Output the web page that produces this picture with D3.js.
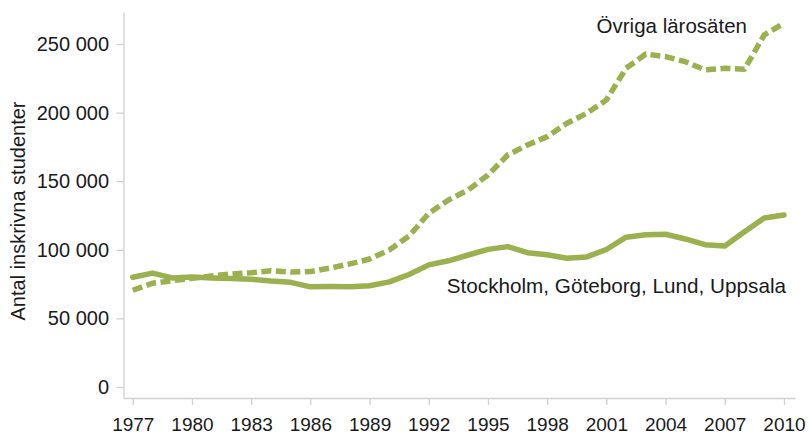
<!DOCTYPE html>
<html>
<head>
<meta charset="utf-8">
<script src="https://cdn.jsdelivr.net/npm/d3@7"></script>
<style>
  body { margin: 0; background: #fff; }
  svg { display: block; font-family: "Liberation Sans", Arial, sans-serif; }
  .axis path, .axis line { stroke: #d0d0d0; stroke-width: 1.3; }
  .axis text { fill: #1a1a1a; font-size: 20px; }
  .xaxis text { font-size: 19px; }
</style>
</head>
<body>
<div id="chart"></div>
<script>
// data
var years = d3.range(1977, 2011);
var storaUni = [80000, 83000, 79500, 80200, 79500, 79000, 78600, 77200, 76300, 73000,
                73200, 73100, 73800, 76600, 82000, 89000, 92000, 96200, 100300, 102300,
                97900, 96400, 93800, 94800, 100200, 109200, 111000, 111300, 107900, 103700,
                102800, 113200, 123200, 125400];
var ovriga = [70500, 75600, 77500, 79200, 81000, 82400, 83300, 84800, 83800, 84100,
              86700, 89700, 93300, 99900, 110000, 126600, 136300, 143600, 154500, 169100,
              176400, 182500, 192200, 199500, 209200, 232300, 242700, 240800, 237100, 231100,
              232300, 231600, 256600, 265100];
var yTicks = [0, 50000, 100000, 150000, 200000, 250000];
var xTicks = d3.range(1977, 2011, 3);

var width = 809, height = 436;
var green = "#9bb04e";

var svg = d3.select("#chart")
  .append("svg")
    .attr("width", width)
    .attr("height", height);

var x = d3.scaleLinear()
  .domain([1976.53, 2010.56])
  .range([123.5, 795]);

var y = d3.scaleLinear()
  .domain([-8017, 273324])
  .range([398, 12]);

var sv = d3.formatLocale({decimal: ",", thousands: " ", grouping: [3], currency: ["", ""]});

// X axis
svg.append("g")
  .attr("class", "axis xaxis")
  .attr("transform", "translate(0,398)")
  .call(d3.axisBottom(x).tickValues(xTicks).tickFormat(d3.format("d"))
        .tickSize(7).tickSizeOuter(0).tickPadding(13));

// Y axis
svg.append("g")
  .attr("class", "axis")
  .attr("transform", "translate(123.5,0)")
  .call(d3.axisLeft(y).tickValues(yTicks).tickFormat(sv.format(","))
        .tickSize(7).tickSizeOuter(0).tickPadding(7.5));

// Y axis label
svg.append("text")
  .attr("transform", "translate(25,211) rotate(-90)")
  .attr("text-anchor", "middle")
  .style("font-size", "20px")
  .style("fill", "#1a1a1a")
  .text("Antal inskrivna studenter");

var line = d3.line()
  .x(function(d, i) { return x(years[i]); })
  .y(function(d) { return y(d); });

// Stockholm, Göteborg, Lund, Uppsala
svg.append("path")
  .datum(storaUni)
  .attr("d", line)
  .attr("fill", "none")
  .attr("stroke", green)
  .attr("stroke-width", 5.5)
  .attr("stroke-linejoin", "round")
  .attr("stroke-linecap", "round");

// Övriga lärosäten
svg.append("path")
  .datum(ovriga)
  .attr("d", line)
  .attr("fill", "none")
  .attr("stroke", green)
  .attr("stroke-width", 5.5)
  .attr("stroke-dasharray", "10,4.5")
  .attr("stroke-linejoin", "round");

// line labels
svg.append("text")
  .attr("x", 747)
  .attr("y", 33)
  .attr("text-anchor", "end")
  .style("font-size", "20.5px")
  .style("fill", "#1a1a1a")
  .text("Övriga lärosäten");

svg.append("text")
  .attr("x", 786)
  .attr("y", 293)
  .attr("text-anchor", "end")
  .style("font-size", "20.7px")
  .style("fill", "#1a1a1a")
  .text("Stockholm, Göteborg, Lund, Uppsala");
</script>
</body>
</html>
